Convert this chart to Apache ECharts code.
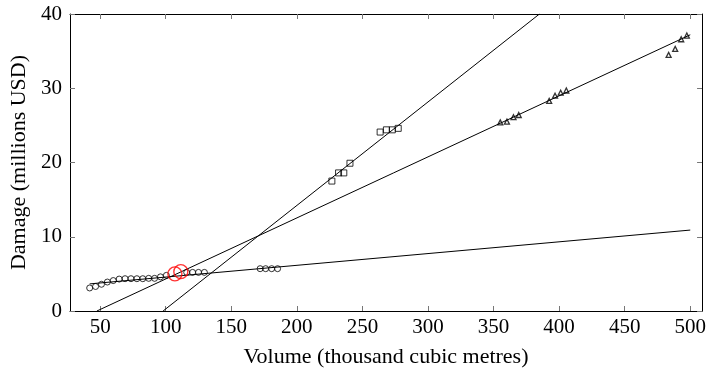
<!DOCTYPE html>
<html>
<head>
<meta charset="utf-8">
<script src="https://cdn.jsdelivr.net/npm/echarts@6/dist/echarts.min.js"></script>
<style>
  html, body { margin: 0; padding: 0; background: #fff; }
  #chart { width: 709px; height: 373px; }
</style>
</head>
<body>
<div id="chart"></div>
<script>
// tick labels
const xTicks = [50, 100, 150, 200, 250, 300, 350, 400, 450, 500]
const yTicks = [0, 10, 20, 30, 40]

// observed points
const circlePts = [
  [42, 3.1], [46.5, 3.3], [51, 3.6], [55.5, 3.9], [60, 4.1], [64.5, 4.3],
  [69, 4.35], [73.5, 4.35], [78, 4.35], [82.5, 4.35], [87, 4.4], [91.5, 4.4],
  [96, 4.6], [100.5, 4.8], [116, 5.2], [120.5, 5.2], [125, 5.2], [129.5, 5.2],
  [172, 5.7], [176.2, 5.7], [180.8, 5.7], [185.3, 5.7]
]
const squarePts = [
  [226.7, 17.5], [231.8, 18.6], [235.8, 18.6], [240.5, 19.9],
  [263.5, 24.1], [268.3, 24.4], [272.8, 24.4], [277.3, 24.6]
]
const trianglePts = [
  [355.1, 25.4], [360.2, 25.5], [365.2, 26.1], [369.2, 26.4],
  [392.4, 28.3], [396.9, 29.0], [401.2, 29.4], [405.5, 29.7],
  [483.5, 34.5], [488.5, 35.3], [493.1, 36.6], [497.4, 37.1]
]
const highlightPts = [[107, 5.0], [111.5, 5.3]]

// fitted lines (end points)
const fitLow = [[42, 3.65], [500, 10.9]]
const fitMid = [[47.5, 0], [500, 37.2]]
const fitSteep = [[98, 0], [385, 40]]

const serif = 'Liberation Serif'
const black = '#000'

const lineSeries = (data) => ({
  type: 'line', data, symbol: 'none', silent: true,
  lineStyle: { color: black, width: 1 }, z: 2
})
const markSeries = (data, symbol, size, color, bw) => ({
  type: 'scatter', data, symbol, symbolSize: size, z: 3,
  itemStyle: { color: 'transparent', borderColor: color, borderWidth: bw || 1 }
})

const chart = echarts.init(document.getElementById('chart'), null, { renderer: 'canvas' })
chart.setOption({
  animation: false,
  backgroundColor: '#fff',
  grid: { left: 70, right: 2, top: 14, bottom: 62 },
  xAxis: [{
    type: 'value', min: 27, max: 509,
    name: 'Volume (thousand cubic metres)', nameLocation: 'middle', nameGap: 35,
    nameTextStyle: { fontFamily: serif, fontSize: 22, color: black },
    axisLine: { show: true, lineStyle: { color: black, width: 1 } },
    axisTick: { show: true, inside: true, length: 5, customValues: xTicks, lineStyle: { color: '#777' } },
    axisLabel: { customValues: xTicks, fontFamily: serif, fontSize: 21, color: black, margin: 6 },
    splitLine: { show: false }
  }, {
    type: 'value', min: 27, max: 509, position: 'top',
    axisLine: { show: true, onZero: false, lineStyle: { color: black, width: 1 } },
    axisTick: { show: true, inside: true, length: 5, customValues: xTicks, lineStyle: { color: '#777' } },
    axisLabel: { show: false }, splitLine: { show: false }
  }],
  yAxis: [{
    type: 'value', min: 0, max: 40, interval: 10,
    name: 'Damage (millions USD)', nameLocation: 'middle', nameGap: 37,
    nameTextStyle: { fontFamily: serif, fontSize: 22, color: black },
    axisLine: { show: true, lineStyle: { color: black, width: 1 } },
    axisTick: { show: true, inside: true, length: 5, customValues: yTicks, lineStyle: { color: '#777' } },
    axisLabel: { customValues: yTicks, fontFamily: serif, fontSize: 21, color: black, margin: 8 },
    splitLine: { show: false }
  }, {
    type: 'value', min: 0, max: 40, interval: 10, position: 'right',
    axisLine: { show: true, onZero: false, lineStyle: { color: black, width: 1 } },
    axisTick: { show: true, inside: true, length: 5, lineStyle: { color: '#777' } },
    axisLabel: { show: false }, splitLine: { show: false }
  }],
  series: [
    lineSeries(fitLow),
    lineSeries(fitMid),
    lineSeries(fitSteep),
    markSeries(circlePts, 'circle', 6, black),
    markSeries(squarePts, 'rect', 6, black),
    markSeries(trianglePts, 'triangle', 5, black, 1.3),
    markSeries(highlightPts, 'circle', 14, '#ff0000', 1.4)
  ]
})
</script>
</body>
</html>
